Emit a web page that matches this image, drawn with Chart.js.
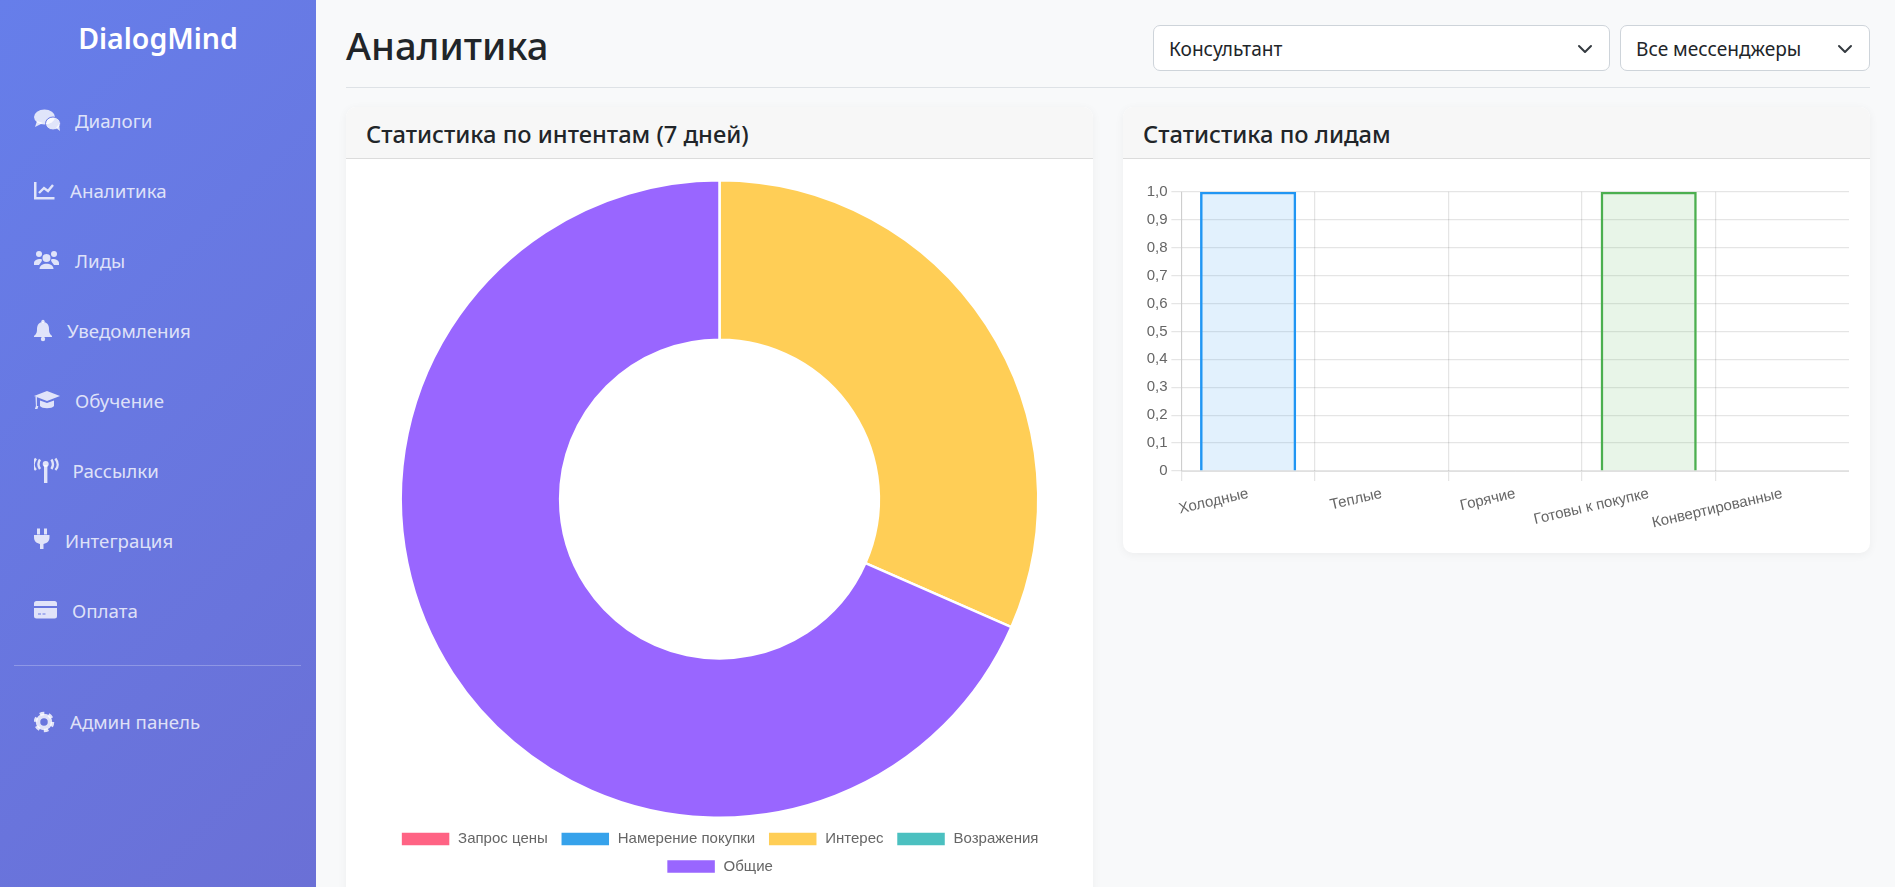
<!DOCTYPE html>
<html lang="ru">
<head>
<meta charset="utf-8">
<title>Аналитика</title>
<script src="https://cdn.jsdelivr.net/npm/chart.js@4"></script>
<style>
  * { box-sizing: border-box; }
  html, body { margin: 0; height: 887px; overflow: hidden; background: #f8f9fa; font-family: "Noto Sans", sans-serif; color: #212529; }
  .sidebar { position: absolute; left: 0; top: 0; width: 316px; height: 4000px; background: linear-gradient(135deg, #667eea, #764ba2); }
  .brand { position: absolute; left: 0; width: 316px; top: 17px; text-align: center; color: #fff; font-size: 28.5px; font-weight: 600; line-height: 42px; }
  .nav-item { position: absolute; left: 34px; height: 40px; line-height: 40px; font-size: 18.7px; color: rgba(255,255,255,.8); white-space: nowrap; }
  .nav-item svg { position: absolute; left: 0; top: 6px; width: 28px; height: 28px; fill: rgba(255,255,255,.8); }
  .nav-item span { position: absolute; top: 0; }
  .divider { position: absolute; left: 14px; width: 287px; top: 665px; height: 1px; background: rgba(255,255,255,.25); }
  h1 { position: absolute; left: 346px; top: 22px; margin: 0; font-size: 38.2px; font-weight: 500; line-height: 46px; }
  .rule { position: absolute; left: 346px; width: 1524px; top: 87px; height: 1px; background: #dee2e6; }
  .select { position: absolute; top: 25px; height: 46px; line-height: 46px; background: #fff; border: 1px solid #ced4da; border-radius: 7px; font-size: 19.1px; padding-left: 15px; }
  .select svg { position: absolute; right: 16px; top: 15px; width: 16px; height: 16px; fill: none; stroke: #343a40; stroke-width: 2; stroke-linecap: round; stroke-linejoin: round; }
  .card { position: absolute; background: #fff; border-radius: 10px; box-shadow: 0 2px 10px rgba(0,0,0,.05); overflow: hidden; }
  .card-header { height: 52px; line-height: 55px; padding-left: 20px; background: #f7f7f7; border-bottom: 1px solid #dcdcdc; font-size: 23.7px; font-weight: 500; }
  canvas { position: absolute; }
</style>
</head>
<body>
<div class="sidebar">
  <div class="brand">DialogMind</div>
  <div class="nav-item" style="top:101px"><svg viewBox="0 0 28 28"><ellipse cx="10.5" cy="10" rx="10.5" ry="7.5"/><path d="M3 14 L1 20 L9 16Z"/><ellipse cx="19" cy="16.5" rx="7.5" ry="6.5" stroke="#6a7be6" stroke-width="1"/><path d="M22 21 L26 24 L25 17Z"/></svg><span style="left:41px">Диалоги</span></div>
  <div class="nav-item" style="top:171px"><svg viewBox="0 0 28 28"><path d="M0 5h2.5v15h18v2.5H0z"/><path d="M5 16l5-5 4 3 5-6" fill="none" stroke="rgba(255,255,255,.8)" stroke-width="2.4"/></svg><span style="left:36px">Аналитика</span></div>
  <div class="nav-item" style="top:241px"><svg viewBox="0 0 28 28"><circle cx="5" cy="7" r="3"/><circle cx="20" cy="7" r="3"/><circle cx="12.5" cy="11" r="4"/><path d="M0 16c0-4 8-5 8-3 0 2-2 3-3 5H0z"/><path d="M25 16c0-4-8-5-8-3 0 2 2 3 3 5h5z"/><path d="M5.5 22c0-7 14-7 14 0z"/></svg><span style="left:41px">Лиды</span></div>
  <div class="nav-item" style="top:311px"><svg viewBox="0 0 28 28"><path d="M9 5c4 0 6 3 6 7 0 4 1 5 3 7v1H0v-1c2-2 3-3 3-7 0-4 2-7 6-7z"/><circle cx="9" cy="22" r="2.2"/><circle cx="9" cy="4.5" r="1.7"/></svg><span style="left:33px">Уведомления</span></div>
  <div class="nav-item" style="top:381px"><svg viewBox="0 0 28 28"><path d="M13 4 L26 9 L13 14 L0 9Z"/><path d="M6 13.5 L13 16 L20 13.5 V19 C18 22 8 22 6 19Z"/><path d="M1.5 10h1.4v9h1.5l-1 3h-2.500l1-3z"/></svg><span style="left:41px">Обучение</span></div>
  <div class="nav-item" style="top:451px"><svg viewBox="0 0 28 28"><path d="M10 8h3.400v18h-3.400z"/><circle cx="11.700" cy="7" r="3"/><path d="M6 2.500c-2 3-2 6.500 0 9.500M2 1.500c-3 4-3 8.500 0 11.500M17.400 2.500c2 3 2 6.500 0 9.500M21.400 1.500c3 4 3 8.500 0 11.500" fill="none" stroke="rgba(255,255,255,.8)" stroke-width="2.400"/></svg><span style="left:38.600px">Рассылки</span></div>
  <div class="nav-item" style="top:521px"><svg viewBox="0 0 28 28"><path d="M3 1.500h3v6H3zM10 1.500h3v6h-3z"/><path d="M0 8h15.500v2c0 4-2 6-6 7v5h-3.500v-5c-4-1-6-3-6-7z"/></svg><span style="left:31px">Интеграция</span></div>
  <div class="nav-item" style="top:591px"><svg viewBox="0 0 28 28"><path d="M2.500 4h18a2.500 2.500 0 0 1 2.500 2.500V9H0V6.500A2.500 2.500 0 0 1 2.500 4z"/><path d="M0 11h23v8a2.500 2.500 0 0 1-2.500 2.500h-18A2.500 2.500 0 0 1 0 19z"/><path d="M4 17h3M8.500 17h3" stroke="#6a7be6" stroke-width="1.200"/></svg><span style="left:38px">Оплата</span></div>
  <div class="divider"></div>
  <div class="nav-item" style="top:702px"><svg viewBox="0 0 28 28"><circle cx="10" cy="14" r="6" fill="none" stroke="rgba(255,255,255,.8)" stroke-width="4.500"/><circle cx="10" cy="14" r="8.500" fill="none" stroke="rgba(255,255,255,.8)" stroke-width="3.500" stroke-dasharray="4.500 4.400"/></svg><span style="left:36px">Админ панель</span></div>
</div>

<h1>Аналитика</h1>
<div class="select" style="left:1153px;width:457px">Консультант<svg viewBox="0 0 16 16"><path d="M2 5l6 6 6-6"/></svg></div>
<div class="select" style="left:1620px;width:250px">Все мессенджеры<svg viewBox="0 0 16 16"><path d="M2 5l6 6 6-6"/></svg></div>
<div class="rule"></div>

<div class="card" style="left:346px;top:107px;width:747px;height:900px">
  <div class="card-header">Статистика по интентам (7 дней)</div>
  <canvas id="intentsChart" width="707" height="705" style="left:20px;top:72px"></canvas>
</div>
<div class="card" style="left:1123px;top:107px;width:747px;height:446px">
  <div class="card-header">Статистика по лидам</div>
  <canvas id="leadsChart" width="706" height="353" style="left:20px;top:72px"></canvas>
</div>

<script>
const intentLabels = ['Запрос цены', 'Намерение покупки', 'Интерес', 'Возражения', 'Общие'];
const intentValues = [0, 0, 6, 0, 13];
const intentColors = ['#FF6384', '#36A2EB', '#FFCE56', '#4BC0C0', '#9966FF'];

const leadLabels = ['Холодные', 'Теплые', 'Горячие', 'Готовы к покупке', 'Конвертированные'];
const leadValues = [1, 0, 0, 1, 0];
const leadBorders = ['#2196F3', '#FF9800', '#F44336', '#4CAF50', '#9C27B0'];
const leadFills = ['rgba(33,150,243,.13)', 'rgba(255,152,0,.13)', 'rgba(244,67,54,.13)', 'rgba(76,175,80,.13)', 'rgba(156,39,176,.13)'];

Chart.defaults.font = { family: '"Liberation Sans", Arial, sans-serif', size: 15 };
Chart.defaults.color = '#666';
Chart.defaults.animation = false;

new Chart(document.getElementById('intentsChart'), {
  type: 'doughnut',
  data: {
    labels: intentLabels,
    datasets: [{
      data: intentValues,
      backgroundColor: intentColors,
      borderColor: '#fff',
      borderWidth: 2.5,
      hoverOffset: 5
    }]
  },
  options: {
    responsive: false,
    devicePixelRatio: 1,
    cutout: '50%',
    plugins: {
      legend: {
        position: 'bottom',
        labels: { boxWidth: 50, boxHeight: 15, padding: 12.5, font: { lineHeight: 1 } }
      },
      tooltip: { enabled: false }
    }
  }
});

new Chart(document.getElementById('leadsChart'), {
  type: 'bar',
  data: {
    labels: leadLabels,
    datasets: [{
      data: leadValues,
      backgroundColor: leadFills,
      borderColor: leadBorders,
      borderWidth: 2.5
    }]
  },
  options: {
    responsive: false,
    devicePixelRatio: 1,
    locale: 'ru',
    plugins: {
      legend: { display: false },
      tooltip: { enabled: false }
    },
    scales: {
      x: {
        afterFit: scale => { scale.height = 61; },
        grid: {
          // the line past the last category is not drawn in the original
          color: ctx => ctx.tick ? 'rgba(0,0,0,.1)' : 'transparent',
          lineWidth: 1.25,
          tickLength: 10
        },
        ticks: { minRotation: 13, maxRotation: 13, padding: 3.75 }
      },
      y: {
        min: 0,
        max: 1,
        grid: { color: 'rgba(0,0,0,.1)', lineWidth: 1.25, tickLength: 10 },
        ticks: { stepSize: 0.1, padding: 3.75 }
      }
    }
  }
});
</script>
</body>
</html>
